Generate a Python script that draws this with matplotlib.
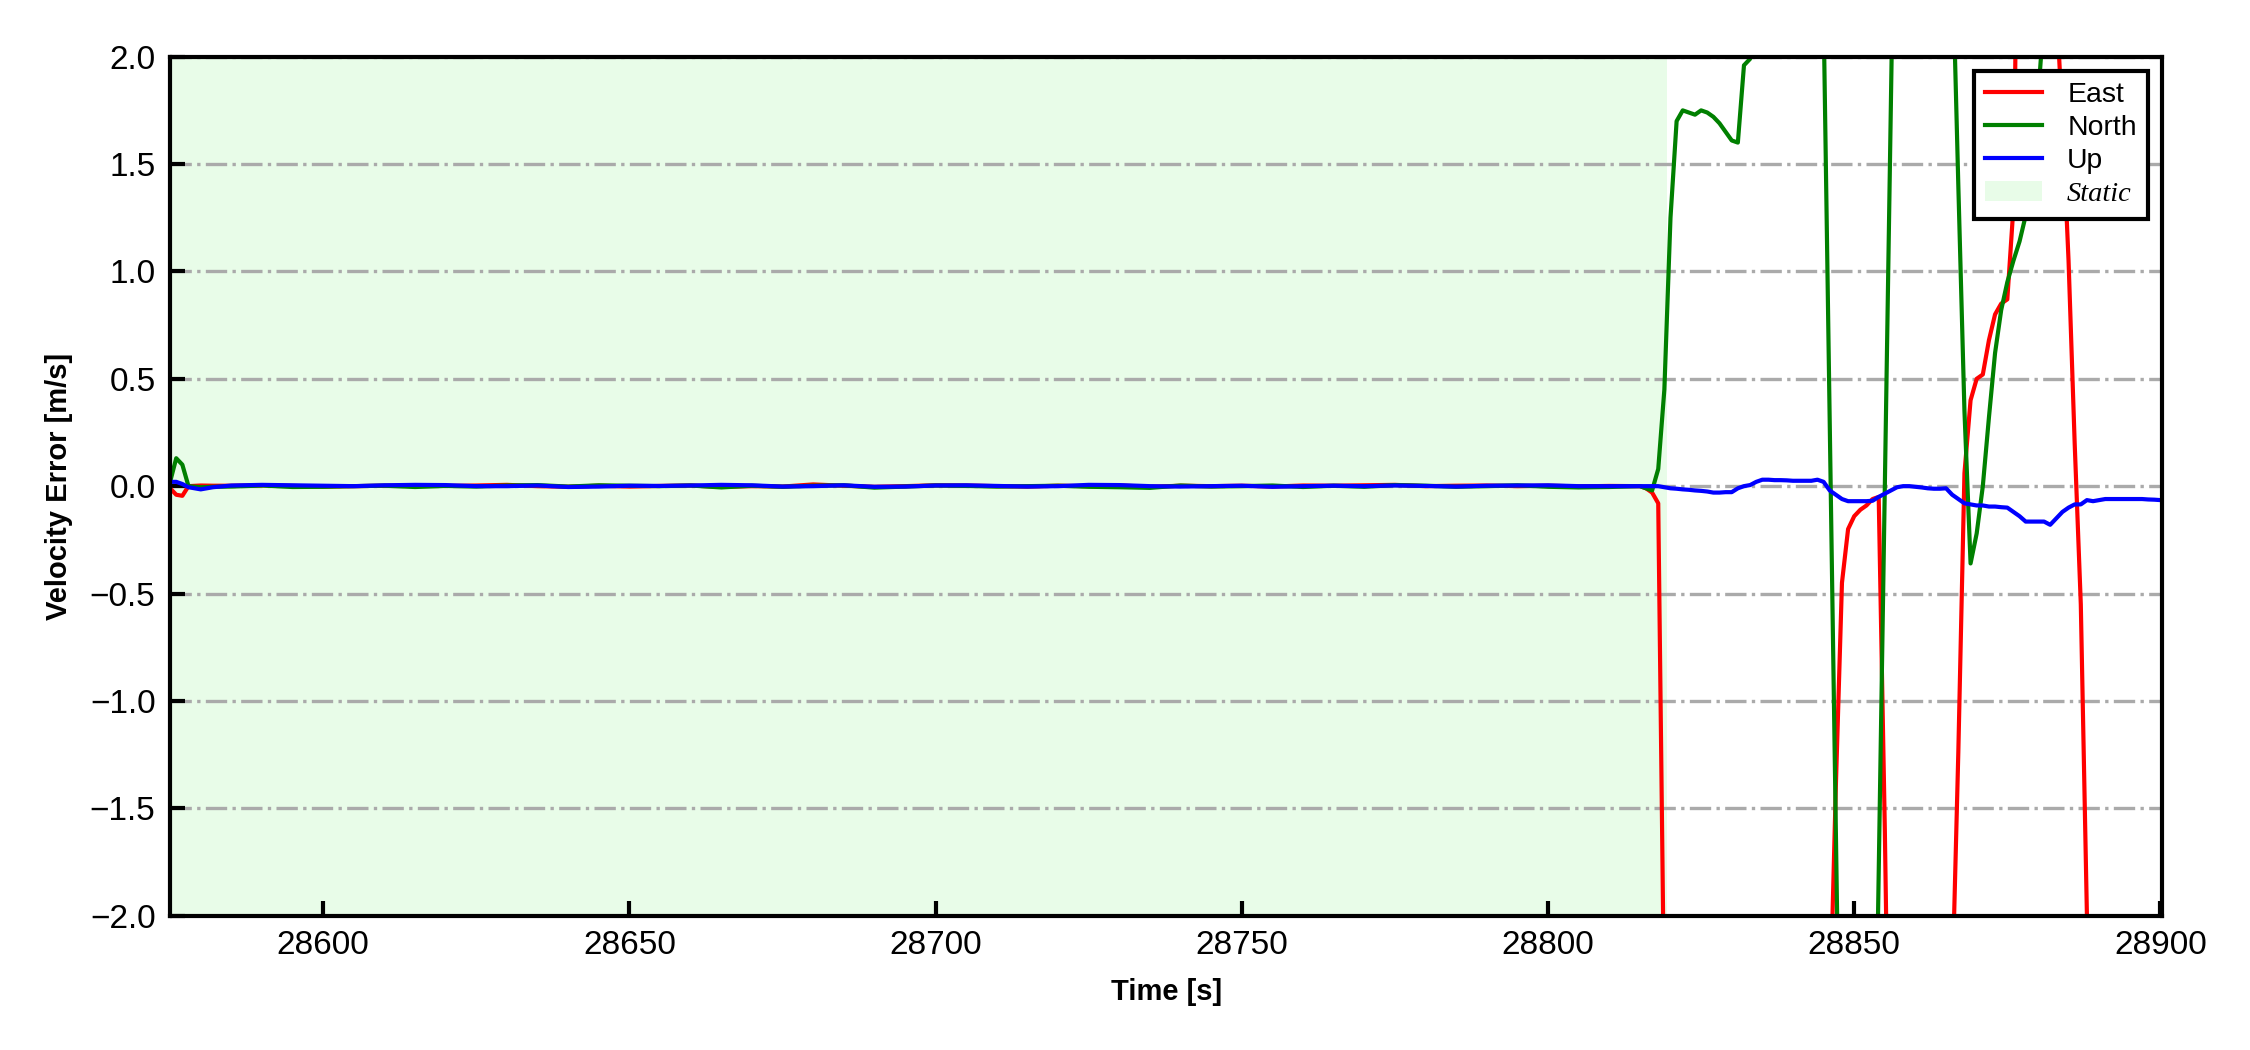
import numpy as np
import matplotlib
matplotlib.use("Agg")
import matplotlib.pyplot as plt
from matplotlib.patches import Patch
from matplotlib.lines import Line2D

plt.rcParams['font.family'] = ['Liberation Sans', 'DejaVu Sans']

# static part: coarse sampling (signal ~0)
t_static = np.concatenate([[28575, 28576, 28577, 28578, 28580, 28582],
                           np.arange(28585, 28815, 5)])
east_static = [-0.01, -0.04, -0.045, 0.0, 0.003, 0.002,
               0.002, 0.004, 0.001, -0.002, 0.0, 0.002, 0.003, 0.001, 0.003, 0.006,
               0.0, -0.003, 0.002, -0.002, 0.001, 0.003, -0.003, 0.0, -0.002, 0.008,
               0.002, -0.003, 0.0, 0.004, 0.003, 0.0, -0.002, 0.002, 0.0, 0.003,
               -0.003, 0.002, 0.0, 0.002, -0.002, 0.003, 0.002, 0.004, 0.006, 0.0,
               0.002, 0.003, 0.0, 0.002, -0.001, 0.001]
north_static = [0.02, 0.13, 0.10, 0.0, -0.005, -0.003,
                -0.002, 0.003, -0.004, -0.003, 0.0, 0.002, -0.004, 0.001, -0.002, 0.003,
                0.005, -0.002, 0.004, 0.002, 0.0, 0.003, -0.006, 0.002, -0.003, 0.002,
                0.004, -0.007, -0.002, 0.003, 0.001, -0.002, 0.0, 0.002, -0.003, -0.005,
                -0.008, 0.003, -0.002, 0.0, 0.003, -0.004, 0.002, -0.003, 0.005, 0.002,
                -0.003, 0.0, 0.004, -0.003, -0.006, -0.004]
up_static = [0.02, 0.02, 0.01, -0.005, -0.015, -0.005,
             0.003, 0.006, 0.004, 0.002, 0.0, 0.004, 0.006, 0.005, 0.0, 0.0,
             0.003, -0.004, -0.002, 0.002, 0.001, 0.003, 0.006, 0.004, -0.002, 0.0,
             0.004, -0.003, -0.002, 0.003, 0.004, 0.001, -0.002, 0.0, 0.006, 0.005,
             0.0, -0.002, 0.0, 0.002, -0.003, 0.0, 0.002, 0.0, 0.003, 0.001,
             -0.002, 0.002, 0.003, 0.004, 0.0, 0.0]

# motion part: 1 s sampling
t_motion = np.arange(28815, 28902)
east_motion = [0.0, -0.01, -0.03, -0.08, -2.5, -2.9, -3.2, -3.4, -3.5, -3.6,
               -3.6, -3.5, -3.4, -3.3, -3.1, -3.0, -3.0, -3.1, -3.3, -3.5,
               -3.6, -3.6, -3.5, -3.4, -3.3, -3.2, -3.1, -3.0, -2.9, -2.8,
               -2.7, -2.5, -1.4, -0.45, -0.2, -0.14, -0.11, -0.09, -0.06, -0.05,
               -1.6, -3.5, -4.0, -4.2, -4.3, -4.2, -4.0, -3.8, -3.5, -3.1,
               -2.8, -2.35, -1.24, 0.06, 0.40, 0.50, 0.52, 0.68, 0.80, 0.85,
               0.87, 1.3, 3.5, 4.0, 4.2, 4.0, 3.6, 2.9, 2.25, 1.7,
               1.05, 0.2, -0.55, -2.0, -3.0, -3.5, -3.8, -4.0, -4.1, -4.1,
               -4.0, -3.9, -3.8, -3.7, -3.6, -3.5, -3.4]
north_motion = [0.0, -0.01, -0.02, 0.08, 0.45, 1.25, 1.70, 1.75, 1.74, 1.73,
                1.75, 1.74, 1.72, 1.69, 1.65, 1.61, 1.60, 1.96, 1.99, 2.3,
                2.6, 2.9, 3.1, 3.3, 3.4, 3.5, 3.6, 3.8, 3.9, 4.0,
                2.2, 0.3, -1.6, -3.5, -4.0, -4.2, -4.3, -4.0, -3.6, -1.8,
                0.0, 1.8, 3.6, 4.2, 4.5, 4.6, 4.5, 4.3, 4.0, 3.6,
                3.1, 2.5, 1.4, 0.35, -0.36, -0.22, 0.0, 0.32, 0.62, 0.82,
                0.95, 1.05, 1.14, 1.26, 1.5, 1.8, 2.2, 2.6, 3.0, 3.3,
                3.6, 3.8, 4.0, 4.1, 4.2, 4.3, 4.3, 4.2, 4.1, 4.0,
                3.9, 3.8, 3.7, 3.6, 3.5, 3.4, 3.3]
up_motion = [0.0, 0.0, 0.0, 0.0, -0.005, -0.01, -0.012, -0.015, -0.017, -0.02,
             -0.022, -0.025, -0.03, -0.03, -0.028, -0.028, -0.01, 0.0, 0.005, 0.02,
             0.03, 0.03, 0.028, 0.028, 0.027, 0.025, 0.025, 0.025, 0.025, 0.03,
             0.02, -0.02, -0.04, -0.06, -0.07, -0.07, -0.07, -0.07, -0.068, -0.05,
             -0.035, -0.02, -0.005, 0.0, 0.0, -0.003, -0.006, -0.01, -0.012, -0.012,
             -0.01, -0.04, -0.06, -0.08, -0.085, -0.09, -0.09, -0.095, -0.095, -0.098,
             -0.10, -0.12, -0.14, -0.165, -0.165, -0.165, -0.165, -0.18, -0.15, -0.12,
             -0.10, -0.085, -0.085, -0.065, -0.07, -0.065, -0.06, -0.06, -0.06, -0.06,
             -0.06, -0.06, -0.06, -0.062, -0.063, -0.065, -0.065]

static_start, static_end = 28575, 28819.5

t = np.concatenate([t_static, t_motion])
east = np.concatenate([east_static, east_motion])
north = np.concatenate([north_static, north_motion])
up = np.concatenate([up_static, up_motion])

static_color = '#e8fce8'
lw = 1.0
label_font_size = 7
tick_font_size = 8

fig = plt.figure(figsize=(7.5, 3.5), dpi=300)
ax = fig.add_subplot(111)
fig.subplots_adjust(left=0.0756, right=0.961, bottom=0.128, top=0.946)

ax.axvspan(static_start, static_end, color=static_color, lw=0, zorder=0)
ax.plot(t, east, color='red', lw=lw, label='East')
ax.plot(t, north, color='green', lw=lw, label='North')
ax.plot(t, up, color='blue', lw=lw, label='Up')

ax.set_xlim(28575, 28900.3)
ax.set_ylim(-2, 2)
ax.set_xticks(np.arange(28600, 28901, 50))
ax.set_yticks(np.arange(-2, 2.01, 0.5))
ax.tick_params(direction='in', labelsize=tick_font_size, width=1, length=3.5)
ax.grid(axis='y', linestyle='-.', color='#aaaaaa', lw=0.8)
for sp in ax.spines.values():
    sp.set_linewidth(1)

ax.set_xlabel('Time [s]', fontsize=label_font_size, fontweight='bold')
ax.set_ylabel('Velocity Error [m/s]', fontsize=label_font_size, fontweight='bold')

handles = [Line2D([], [], color='red', lw=lw),
           Line2D([], [], color='green', lw=lw),
           Line2D([], [], color='blue', lw=lw),
           Patch(facecolor=static_color, edgecolor='none')]
leg = ax.legend(handles, ['East', 'North', 'Up', 'Static'], loc='upper right',
                fontsize=6.8, fancybox=False, edgecolor='black', framealpha=1,
                labelspacing=0.25, handlelength=2.0, handletextpad=0.9)
leg.get_frame().set_linewidth(1)
leg.get_texts()[3].set_fontfamily('Liberation Serif')
leg.get_texts()[3].set_fontstyle('italic')

plt.savefig('out.png', dpi=300)
